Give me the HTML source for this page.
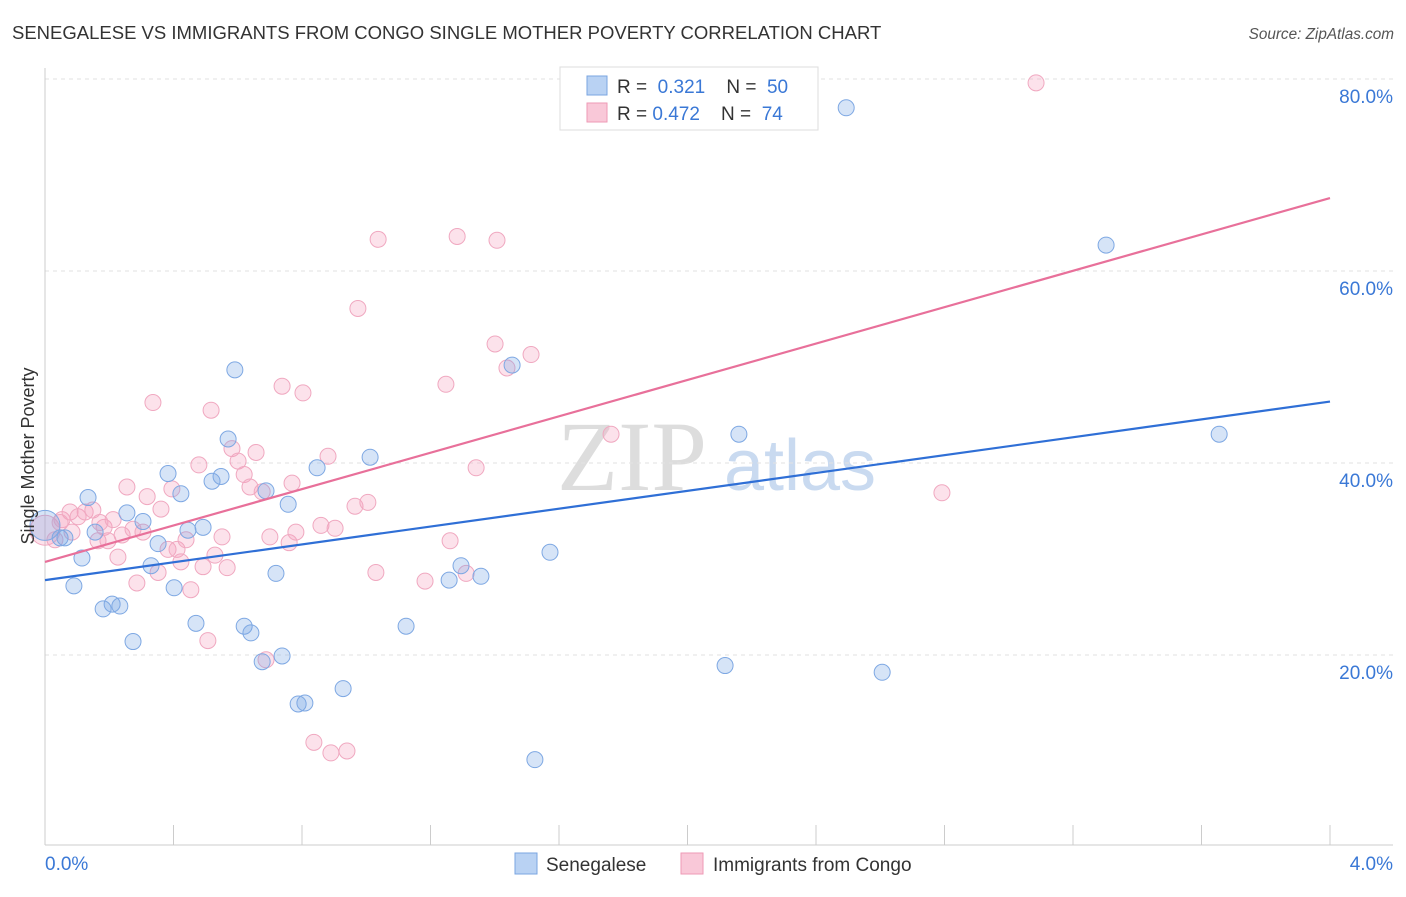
<!DOCTYPE html>
<html><head><meta charset="utf-8"><style>
body{margin:0;background:#fff;font-family:"Liberation Sans",sans-serif}
svg text{font-family:"Liberation Sans",sans-serif}
</style></head><body>
<svg id="chart" width="1406" height="892" xmlns="http://www.w3.org/2000/svg">
<text x="12" y="39" font-size="18.5" fill="#333">SENEGALESE VS IMMIGRANTS FROM CONGO SINGLE MOTHER POVERTY CORRELATION CHART</text>
<text x="1394" y="39" font-size="15.3" fill="#555" font-style="italic" text-anchor="end">Source: ZipAtlas.com</text>
<g>
<text x="632" y="490" font-size="100" fill="#ddd" font-family="Liberation Serif" text-anchor="middle" style="font-family:'Liberation Serif',serif">ZIP</text>
<text x="800" y="490" font-size="72" fill="#c9daf0" text-anchor="middle">atlas</text>
</g>
<g id="grid"></g>
<g id="axes"></g>
<g id="marks"></g>
<g>
<rect x="560" y="67" width="258" height="63" fill="#fff" stroke="#ddd"/>
<rect x="587" y="76" width="20" height="19" fill="#b9d2f3" stroke="#7aa5e0"/>
<rect x="587" y="103" width="20" height="19" fill="#f9c8d8" stroke="#ee9ab6"/>
<text x="617" y="93" font-size="19" fill="#333">R = <tspan fill="#3a78d6">&#160;0.321</tspan>&#160;&#160;&#160;&#160;N = <tspan fill="#3a78d6">&#160;50</tspan></text>
<text x="617" y="120" font-size="19" fill="#333">R = <tspan fill="#3a78d6">0.472</tspan>&#160;&#160;&#160;&#160;N = <tspan fill="#3a78d6">&#160;74</tspan></text>
</g>
<g>
<rect x="515" y="853" width="22" height="21" fill="#b9d2f3" stroke="#7aa5e0"/>
<text x="546" y="871" font-size="19" fill="#333">Senegalese</text>
<rect x="681" y="853" width="22" height="21" fill="#f9c8d8" stroke="#ee9ab6"/>
<text x="713" y="871" font-size="19" fill="#333">Immigrants from Congo</text>
</g>
<text transform="translate(34,456) rotate(-90)" font-size="18" fill="#333" text-anchor="middle">Single Mother Poverty</text>
</svg>
<script>
const yTicks=[20,40,60,80];
const yTickLabels=["20.0%","40.0%","60.0%","80.0%"];
const xTickLabels=["0.0%","4.0%"];
const blueX=[0,0.047,0.062,0.134,0.115,0.090,0.156,0.181,0.209,0.233,0.255,0.274,0.305,0.330,0.352,0.383,0.402,0.423,0.445,0.470,0.492,0.520,0.548,0.570,0.591,0.620,0.641,0.676,0.688,0.719,0.738,0.757,0.788,0.809,0.847,0.928,1.012,1.124,1.258,1.295,1.357,1.454,1.525,1.572,2.117,2.160,2.494,2.606,3.303,3.655];
const blueY=[33.5,32.2,32.2,36.4,30.1,27.2,32.8,24.8,25.3,25.1,34.8,21.4,33.9,29.3,31.6,38.9,27.0,36.8,33.0,23.3,33.3,38.1,38.6,42.5,49.7,23.0,22.3,19.3,37.1,28.5,19.9,35.7,14.9,15.0,39.5,16.5,40.6,23.0,27.8,29.3,28.2,50.2,9.1,30.7,18.9,43.0,77.0,18.2,62.7,43.0];
const pinkX=[0,0.031,0.053,0.078,0.103,0.125,0.149,0.165,0.184,0.196,0.227,0.240,0.255,0.274,0.286,0.305,0.318,0.336,0.352,0.361,0.383,0.395,0.411,0.423,0.439,0.454,0.479,0.492,0.507,0.517,0.529,0.551,0.567,0.582,0.601,0.620,0.638,0.657,0.676,0.688,0.700,0.738,0.760,0.769,0.781,0.803,0.837,0.859,0.881,0.890,0.903,0.940,0.965,0.974,1.005,1.030,1.037,1.183,1.248,1.261,1.283,1.311,1.342,1.401,1.407,1.438,1.513,1.762,2.792,3.085,0.047,0.084,0.171,0.212];
const pinkY=[33.0,32.0,34.1,34.9,34.4,34.9,35.1,31.9,33.3,31.9,30.2,32.5,37.5,33.1,27.5,32.8,36.5,46.3,28.6,35.2,31.0,37.3,31.0,29.7,32.0,26.8,39.8,29.2,21.5,45.5,30.4,32.3,29.1,41.5,40.2,38.8,37.5,41.1,37.0,19.5,32.3,48.0,31.7,37.9,32.8,47.3,10.9,33.5,40.7,9.8,33.2,10.0,35.5,56.1,35.9,28.6,63.3,27.7,48.2,31.9,63.6,28.5,39.5,52.4,63.2,49.9,51.3,43.0,36.9,79.6,33.8,32.8,33.8,34.1];
const blueTrend=[27.8,46.4];
const pinkTrend=[29.7,67.6];
const trendX=[0,4];
const NS="http://www.w3.org/2000/svg";
const sx=v=>45+v/4*1285;
const sy=v=>847-v*9.6;
function mk(tag,attrs,parent){const e=document.createElementNS(NS,tag);for(const k in attrs)e.setAttribute(k,attrs[k]);parent.appendChild(e);return e;}
const grid=document.getElementById('grid'),axes=document.getElementById('axes'),marks=document.getElementById('marks');
yTicks.forEach((t,i)=>{
 const l=mk('line',{x1:45,x2:1393,y1:sy(t),y2:sy(t),stroke:'#e2e2e2','stroke-dasharray':'4,4'},grid);
 
 
 const tx=mk('text',{x:1393,y:sy(t)+24,'font-size':19,fill:'#3a78d6','text-anchor':'end'},axes);
 tx.textContent=yTickLabels[i];
 
 
});
const ax=mk('line',{x1:45,x2:1393,y1:845,y2:845,stroke:'#ccc'},axes);


const ay=mk('line',{x1:45,x2:45,y1:68,y2:845,stroke:'#ccc'},axes);


for(let i=0;i<=10;i++){
 const t=mk('line',{x1:sx(i*0.4),x2:sx(i*0.4),y1:825,y2:845,stroke:'#ccc'},axes);
 
 
}
const x0=mk('text',{x:45,y:870,'font-size':19,fill:'#3a78d6'},axes);x0.textContent=xTickLabels[0];


const x1=mk('text',{x:1393,y:870,'font-size':19,fill:'#3a78d6','text-anchor':'end'},axes);x1.textContent=xTickLabels[1];


function pts(X,Y,fill,stroke,name){
 X.forEach((v,i)=>{
  const c=mk('circle',{cx:sx(v),cy:sy(Y[i]),r:(i===0?15:8),fill:fill,stroke:stroke,'stroke-width':1},marks);
  
  
 });
}
pts(pinkX,pinkY,'rgba(244,160,190,0.3)','#f0a8c0','congo-point');
pts(blueX,blueY,'rgba(120,165,230,0.3)','#7ea8e3','senegalese-point');
const bl=mk('line',{x1:sx(trendX[0]),y1:sy(blueTrend[0]),x2:sx(trendX[1]),y2:sy(blueTrend[1]),stroke:'#2f6fd6','stroke-width':2.2},marks);


const pl=mk('line',{x1:sx(trendX[0]),y1:sy(pinkTrend[0]),x2:sx(trendX[1]),y2:sy(pinkTrend[1]),stroke:'#e8709a','stroke-width':2.2},marks);


</script>
</body></html>
